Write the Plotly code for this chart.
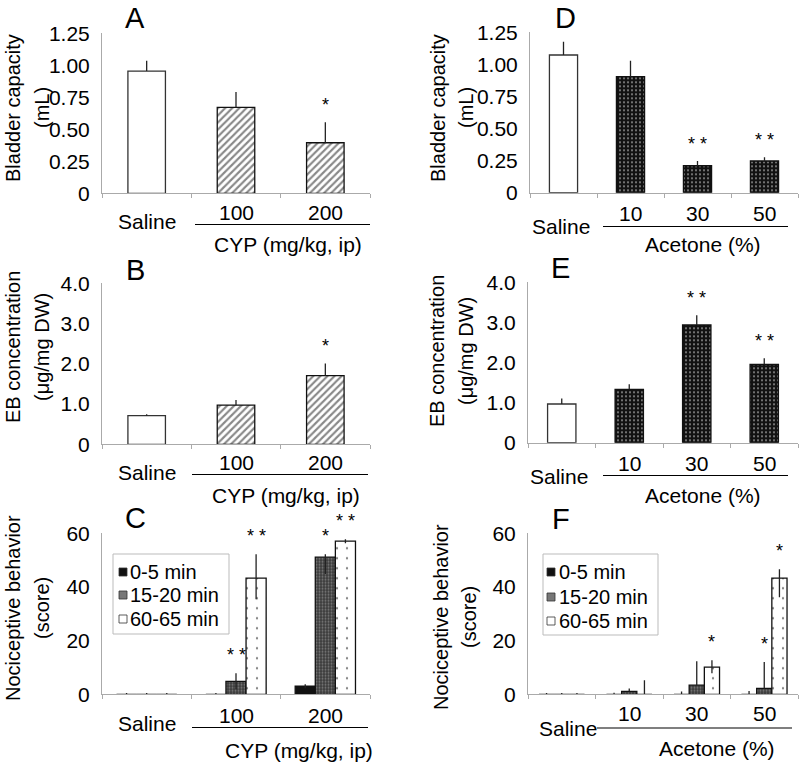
import plotly.graph_objects as go

W, H = 800, 767
def PX(x): return x / W
def PY(y): return 1 - y / H

# ---------------- data ----------------
cyp_cats = ["Saline", "100", "200"]
ace_cats = ["Saline", "10", "30", "50"]
series_names = ["0-5 min", "15-20 min", "60-65 min"]

A_mean = [0.955, 0.672, 0.395]
A_err = [0.08, 0.12, 0.16]
A_sig = ["", "", "*"]

B_mean = [0.71, 0.975, 1.705]
B_err = [0.035, 0.125, 0.305]
B_sig = ["", "", "*"]

D_mean = [1.073, 0.904, 0.21, 0.247]
D_err = [0.104, 0.125, 0.037, 0.029]
D_sig = ["", "", "* *", "* *"]

E_mean = [0.965, 1.33, 2.935, 1.955]
E_err = [0.14, 0.125, 0.245, 0.15]
E_sig = ["", "", "* *", "* *"]

C_mean = [[0, 0, 3.0], [0, 4.85, 51.1], [0, 43.3, 57.1]]
C_err_up = [[0.5, 0.5, 0.7], [0.5, 3.0, 1.1], [0.5, 8.9, 0.7]]
C_err_dn = [[0, 0, 0.7], [0, 3.0, 6.3], [0, 7.9, 0.8]]
C_sig = [["", "", ""], ["", "* *", "*"], ["", "* *", "* *"]]

F_mean = [[0, 0, 0, 0], [0, 1.1, 3.4, 2.2], [0, 0, 10.1, 43.3]]
F_err_up = [[0.5, 0.6, 1.0, 1.2], [0.5, 1.1, 8.9, 9.8], [0.5, 5.2, 2.6, 3.3]]
F_err_dn = [[0, 0, 0, 0], [0, 0, 0, 0], [0, 0, 2.3, 7.1]]
F_sig = [["", "", "", ""], ["", "", "", "*"], ["", "", "*", "*"]]

A_ticks = [0, 0.25, 0.5, 0.75, 1.0, 1.25]
A_ticktext = ["0", "0.25", "0.50", "0.75", "1.00", "1.25"]
B_ticks = [0, 1, 2, 3, 4]
B_ticktext = ["0", "1.0", "2.0", "3.0", "4.0"]
C_ticks = [0, 20, 40, 60]
C_ticktext = ["0", "20", "40", "60"]

# ---------------- styles ----------------
FONT = "Arial, Liberation Sans, sans-serif"
LINE = dict(color="#111", width=1.3)
ERR = dict(type="data", symmetric=False, width=0, thickness=1.3, color="#222")
white_fill = dict(color="white", line=dict(color="#333", width=1.3))
hatch = dict(color="white", line=LINE,
             pattern=dict(shape="/", fgcolor="#111", bgcolor="white", size=5, solidity=0.42))
dark = dict(color="#111", line=LINE,
            pattern=dict(shape=".", fgcolor="white", bgcolor="#111", size=4, solidity=0.22))
s_black = dict(color="#111", line=LINE)
s_gray = dict(color="#666", line=LINE,
              pattern=dict(shape=".", fgcolor="#bbb", bgcolor="#3a3a3a", size=3, solidity=0.35))
s_dots = dict(color="white", line=LINE,
              pattern=dict(shape=".", fgcolor="#000", bgcolor="white", size=10, solidity=0.04))
group_styles = [s_black, s_gray, s_dots]

fig = go.Figure()
annotations = []
shapes = []
STAR = 18

def single_panel(n, cats, means, errs, sigs, styles):
    xa, ya = ("x" if n == 1 else f"x{n}"), ("y" if n == 1 else f"y{n}")
    for i, c in enumerate(cats):
        fig.add_trace(go.Bar(
            x=[c], y=[means[i]], xaxis=xa, yaxis=ya, width=0.42, offset=-0.21,
            marker=styles[i], showlegend=False, cliponaxis=False,
            error_y=dict(ERR, array=[errs[i]], arrayminus=[0])))
        if sigs[i]:
            annotations.append(dict(text=sigs[i], x=i, y=means[i] + errs[i], xref=xa, yref=ya,
                                    showarrow=False, yshift=17, font=dict(size=STAR),
                                    xanchor="center", yanchor="middle"))

def group_panel(n, cats, means, eu, ed, sigs):
    xa, ya = ("x" if n == 1 else f"x{n}"), ("y" if n == 1 else f"y{n}")
    w = 0.225
    for s in range(3):
        off = (s - 1.5) * w
        fig.add_trace(go.Bar(
            x=cats, y=means[s], xaxis=xa, yaxis=ya, width=w, offset=off,
            marker=group_styles[s], name=series_names[s], showlegend=False, cliponaxis=False,
            error_y=dict(ERR, array=eu[s], arrayminus=ed[s])))
        for i in range(len(cats)):
            if sigs[s][i]:
                annotations.append(dict(text=sigs[s][i], x=i + off + w / 2, y=means[s][i] + eu[s][i],
                                        xref=xa, yref=ya, showarrow=False, yshift=18,
                                        font=dict(size=STAR), xanchor="center", yanchor="middle"))

single_panel(1, cyp_cats, A_mean, A_err, A_sig, [white_fill, hatch, hatch])
single_panel(2, cyp_cats, B_mean, B_err, B_sig, [white_fill, hatch, hatch])
group_panel(3, cyp_cats, C_mean, C_err_up, C_err_dn, C_sig)
single_panel(4, ace_cats, D_mean, D_err, D_sig, [white_fill, dark, dark, dark])
single_panel(5, ace_cats, E_mean, E_err, E_sig, [white_fill, dark, dark, dark])
group_panel(6, ace_cats, F_mean, F_err_up, F_err_dn, F_sig)

# ---------------- axes ----------------
domains = {
    1: ((102, 370), (33.3, 193.3)),
    2: ((102, 370), (283.3, 444.3)),
    3: ((102, 370), (533.3, 694.3)),
    4: ((530, 798), (32.3, 192.7)),
    5: ((528, 798), (282.3, 442.7)),
    6: ((528, 798), (533.3, 694.3)),
}
yinfo = {1: (A_ticks, A_ticktext, 1.25), 4: (A_ticks, A_ticktext, 1.25),
         2: (B_ticks, B_ticktext, 4), 5: (B_ticks, B_ticktext, 4),
         3: (C_ticks, C_ticktext, 60), 6: (C_ticks, C_ticktext, 60)}
cats_of = {1: cyp_cats, 2: cyp_cats, 3: cyp_cats, 4: ace_cats, 5: ace_cats, 6: ace_cats}

layout = {}
for n, ((x0, x1), (yt, yb)) in domains.items():
    sfx = "" if n == 1 else str(n)
    tv, tt, top = yinfo[n]
    layout["xaxis" + sfx] = dict(domain=[PX(x0), PX(x1)], anchor="y" + sfx, type="category",
                                 categoryorder="array", categoryarray=cats_of[n],
                                 range=[-0.5, len(cats_of[n]) - 0.5],
                                 showline=True, linecolor="#aaa", linewidth=1,
                                 ticks="outside", tickson="boundaries", ticklen=4, tickcolor="#aaa",
                                 showticklabels=False, showgrid=False, zeroline=False, fixedrange=True)
    layout["yaxis" + sfx] = dict(domain=[PY(yb), PY(yt)], anchor="x" + sfx, range=[0, top],
                                 tickvals=tv, ticktext=tt, showline=True, linecolor="#aaa",
                                 linewidth=1, ticks="", showgrid=False, zeroline=False,
                                 tickfont=dict(size=21, color="black"), ticklabelstandoff=7,
                                 fixedrange=True)

# ---------------- text ----------------
def txt(t, x, y, size=21, **kw):
    d = dict(text=t, x=PX(x), y=PY(y), xref="paper", yref="paper", showarrow=False,
             font=dict(size=size), xanchor="center", yanchor="middle")
    d.update(kw)
    annotations.append(d)

# panel letters
for L, x, y in [("A", 135, 18), ("B", 135, 270), ("C", 135, 518),
                ("D", 565, 18), ("E", 560, 268), ("F", 561, 519)]:
    txt(L, x, y, size=29)

# y-axis titles
for l1, l2, xa, xb, yc in [
        ("Bladder capacity", "(mL)", 13, 42, 108),
        ("EB concentration", "(μg/mg DW)", 13, 42, 347),
        ("Nociceptive behavior", "(score)", 13, 42, 608),
        ("Bladder capacity", "(mL)", 438, 466, 108),
        ("EB concentration", "(μg/mg DW)", 437, 466, 351),
        ("Nociceptive behavior", "(score)", 441, 469, 617)]:
    txt(l1, xa, yc, size=20, textangle=-90)
    txt(l2, xb, yc, size=20, textangle=-90)

# category labels under axes
def cat_labels(n, cats, y_sal, y_num, sal_shift=0):
    xa = "x" if n == 1 else f"x{n}"
    for i, c in enumerate(cats):
        annotations.append(dict(text=c, x=i, y=PY(y_sal if i == 0 else y_num), xref=xa, yref="paper",
                                showarrow=False, font=dict(size=21), xanchor="center",
                                yanchor="middle", xshift=sal_shift if i == 0 else 0))

cat_labels(1, cyp_cats, 222, 212)
cat_labels(2, cyp_cats, 472, 462)
cat_labels(3, cyp_cats, 723, 715)
cat_labels(4, ace_cats, 227, 213, -3)
cat_labels(5, ace_cats, 476, 463, -3)
cat_labels(6, ace_cats, 728, 713, 6)

txt("CYP (mg/kg, ip)", 288, 245)
txt("CYP (mg/kg, ip)", 286, 495)
txt("CYP (mg/kg, ip)", 299, 750)
txt("Acetone (%)", 703, 245)
txt("Acetone (%)", 703, 495)
txt("Acetone (%)", 717, 748)

for x0, x1, y in [(195, 370, 224.5), (192, 368, 474.5), (192, 368, 727.5),
                  (603, 788, 226.5), (603, 788, 475.5), (597, 792, 728)]:
    shapes.append(dict(type="line", xref="paper", yref="paper", x0=PX(x0), x1=PX(x1),
                       y0=PY(y), y1=PY(y), line=dict(color="black", width=1.2)))

# legends (C and F)
for bx0, bx1, by0, by1, sx, tx, ys in [
        (113, 229, 554, 634, 119, 128, [572, 595, 619]),
        (543, 658, 554, 635, 547, 557, [572, 597, 621])]:
    shapes.append(dict(type="rect", xref="paper", yref="paper", x0=PX(bx0), x1=PX(bx1),
                       y0=PY(by1), y1=PY(by0), line=dict(color="#bbb", width=1),
                       fillcolor="white", layer="above"))
    fills = ["#111", "#777", "white"]
    for k, yy in enumerate(ys):
        shapes.append(dict(type="rect", xref="paper", yref="paper", x0=PX(sx), x1=PX(sx + 8),
                           y0=PY(yy + 4), y1=PY(yy - 4), fillcolor=fills[k],
                           line=dict(color="#333", width=0.8), layer="above"))
        txt(series_names[k], tx, yy, size=20, xanchor="left")

fig.update_layout(**layout)
fig.update_layout(width=W, height=H, margin=dict(l=0, r=0, t=0, b=0, pad=0, autoexpand=False),
                  paper_bgcolor="white", plot_bgcolor="white",
                  font=dict(family=FONT, color="black"),
                  barmode="overlay", showlegend=False, hovermode=False,
                  annotations=annotations, shapes=shapes)

fig.write_html("out.html", config={"displayModeBar": False, "staticPlot": True},
               post_script="document.body.style.margin='0';"
                           "document.documentElement.style.overflow='hidden';")
